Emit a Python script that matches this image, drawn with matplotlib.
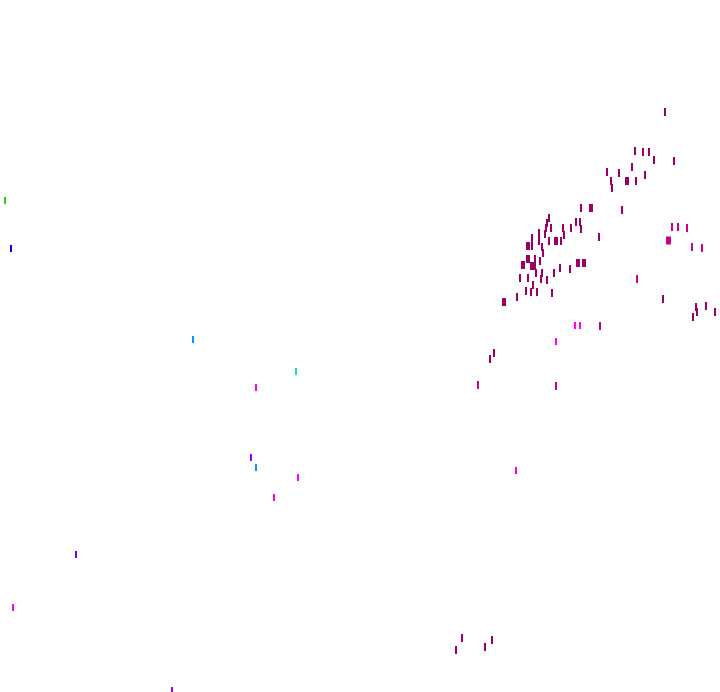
import matplotlib
matplotlib.use("Agg")
import matplotlib.pyplot as plt

# ── data: mark positions (x, y in image pixels), grouped by colour ──
dark_x = [665, 635, 643, 649, 654, 674, 632, 607, 619, 645, 627, 636, 611, 612,
          581, 591, 622, 549, 547, 546, 551, 576, 580, 581, 563, 571, 539, 545,
          564, 532, 539, 549, 556, 561, 599, 528, 532, 542, 543, 528, 535, 540,
          523, 533, 578, 584, 542, 536, 554, 560, 570, 520, 528, 541, 547, 533,
          526, 531, 537, 552, 504, 517, 663, 696, 697, 706, 715, 693,
          462, 456, 492, 485, 494, 490]
dark_y = [112, 151, 152, 152, 160, 161, 167, 172, 173, 175, 181, 181, 181, 188,
          208, 208, 210, 218, 223, 228, 228, 222, 222, 229, 228, 228, 233, 234,
          235, 238, 241, 241, 241, 241, 237, 246, 246, 247, 253, 259, 259, 261,
          265, 266, 263, 263, 273, 273, 273, 268, 269, 278, 278, 279, 280, 285,
          291, 292, 292, 293, 302, 297, 299, 307, 312, 306, 312, 317,
          638, 650, 640, 647, 353, 359]
dark_w = [2, 2, 2, 2, 2, 2, 2, 2, 2, 2, 4, 2, 2, 2,
          2, 4, 2, 2, 2, 2, 2, 2, 2, 2, 2, 2, 2, 2,
          2, 2, 2, 2, 4, 2, 2, 4, 2, 2, 2, 4, 2, 2,
          4, 6, 4, 4, 2, 2, 2, 2, 2, 2, 2, 2, 2, 2,
          2, 2, 2, 2, 4, 2, 2, 2, 2, 2, 2, 2,
          2, 2, 2, 2, 2, 2]

pink_x = [672, 678, 687, 668, 692, 702, 637, 600, 478, 556]
pink_y = [227, 227, 228, 240, 247, 248, 279, 326, 385, 386]
pink_w = [2, 2, 2, 5, 2, 2, 2, 2, 2, 2]

# isolated single marks with their own colour
solo_x = [5, 11, 193, 296, 256, 251, 256, 298, 274, 76, 13, 172, 575, 580, 556, 516]
solo_y = [200, 248, 339, 371, 387, 457, 467, 477, 497, 554, 607, 690, 325, 325, 341, 470]
solo_c = ["#33CC00", "#0000CC", "#0099FF", "#11DDBB", "#FF00FF", "#9900FF",
          "#0099FF", "#FF00FF", "#FF00CC", "#6600FF", "#FF00FF", "#9900FF",
          "#FF00FF", "#FF00FF", "#FF00FF", "#FF00CC"]

# ── plot ──
fig = plt.figure(figsize=(7.2, 6.92), dpi=100)
ax = fig.add_axes([0, 0, 1, 1])
ax.set_xlim(0, 720)
ax.set_ylim(692, 0)
ax.axis("off")

px = 72 / 100  # points per pixel


def marks(xs, ys, ws, color):
    for x, y, w in zip(xs, ys, ws):
        ax.plot(x, y, marker="|", markersize=8 * px, markeredgewidth=w * px,
                color=color, linestyle="none")


marks(dark_x, dark_y, dark_w, "#990066")
marks(pink_x, pink_y, pink_w, "#CC0088")
for x, y, c in zip(solo_x, solo_y, solo_c):
    ax.plot(x, y, marker="|", markersize=7 * px, markeredgewidth=2 * px,
            color=c, linestyle="none")

fig.savefig("out.png", dpi=100, facecolor="white")
